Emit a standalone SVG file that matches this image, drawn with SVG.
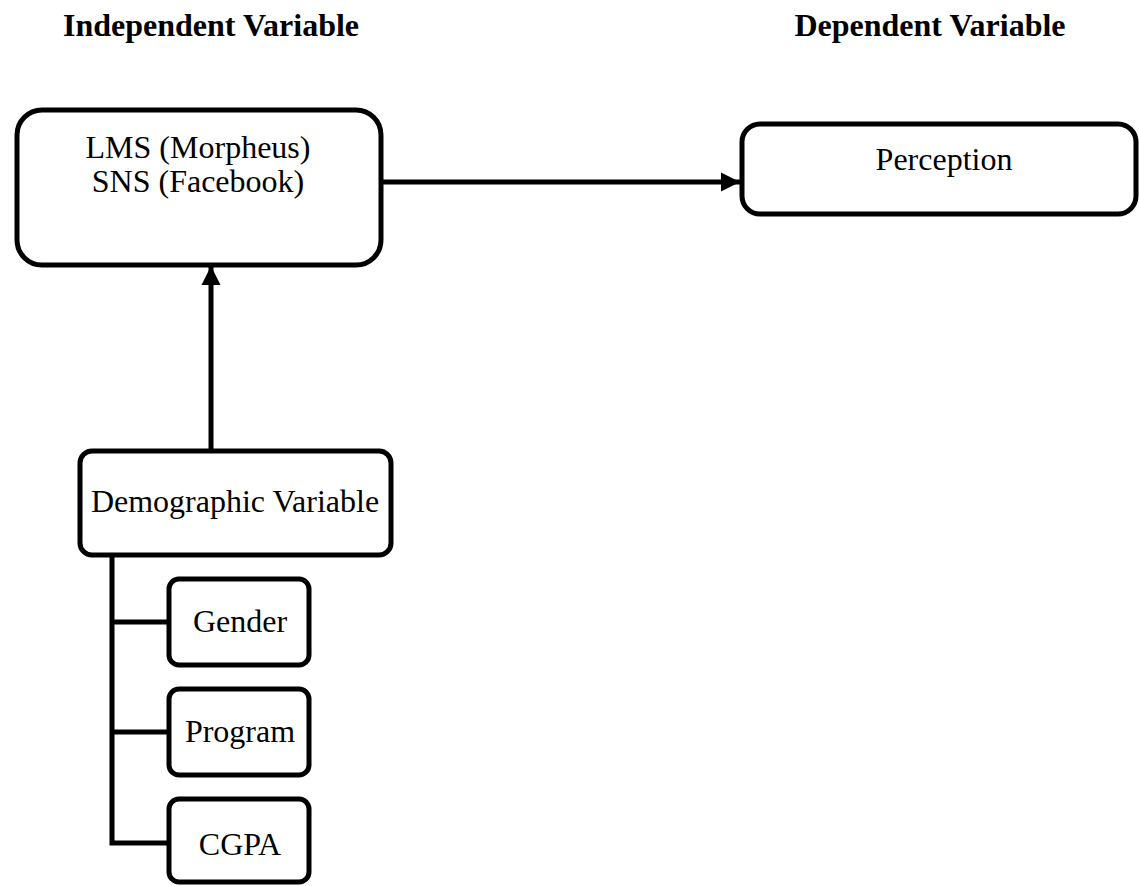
<svg xmlns="http://www.w3.org/2000/svg" width="1139" height="886" viewBox="0 0 1139 886">
<style>
.box{fill:#fff;stroke:#000;stroke-width:5}
.t{font-family:"Liberation Serif",serif;font-size:32px;fill:#000;text-anchor:middle}
.h{font-family:"Liberation Serif",serif;font-size:32px;font-weight:bold;fill:#000;text-anchor:middle}
.ln{fill:none;stroke:#000;stroke-width:5}
</style>
<defs>
<marker id="ah" viewBox="0 0 10 10" refX="10" refY="5" markerWidth="3.8" markerHeight="4.2" markerUnits="strokeWidth" orient="auto">
<path d="M0,0 L10,5 L0,10 Z" fill="#000"/>
</marker>
</defs>
<g id="headers">
<text class="h" x="211" y="36">Independent Variable</text>
<text class="h" x="930" y="36">Dependent Variable</text>
</g>
<g id="connectors">
<line class="ln" x1="383" y1="182" x2="740" y2="182" marker-end="url(#ah)"/>
<line class="ln" x1="211" y1="450" x2="211" y2="266" marker-end="url(#ah)"/>
<polyline class="ln" points="112,556 112,843 168,843"/>
<line class="ln" x1="112" y1="622" x2="168" y2="622"/>
<line class="ln" x1="112" y1="732" x2="168" y2="732"/>
</g>
<g id="lms">
<rect class="box" x="17" y="110" width="364" height="155" rx="25"/>
<text class="t" x="198" y="158">LMS (Morpheus)</text>
<text class="t" x="198" y="192">SNS (Facebook)</text>
</g>
<g id="perception">
<rect class="box" x="742" y="124" width="394" height="90" rx="18"/>
<text class="t" x="944" y="170">Perception</text>
</g>
<g id="demographic">
<rect class="box" x="80" y="451" width="311" height="104" rx="12"/>
<text class="t" x="235" y="512">Demographic Variable</text>
</g>
<g id="gender">
<rect class="box" x="169" y="579" width="140" height="86" rx="10"/>
<text class="t" x="240" y="632">Gender</text>
</g>
<g id="program">
<rect class="box" x="169" y="689" width="140" height="86" rx="10"/>
<text class="t" x="240" y="742">Program</text>
</g>
<g id="cgpa">
<rect class="box" x="169" y="799" width="140" height="83" rx="10"/>
<text class="t" x="240" y="855">CGPA</text>
</g>
</svg>
